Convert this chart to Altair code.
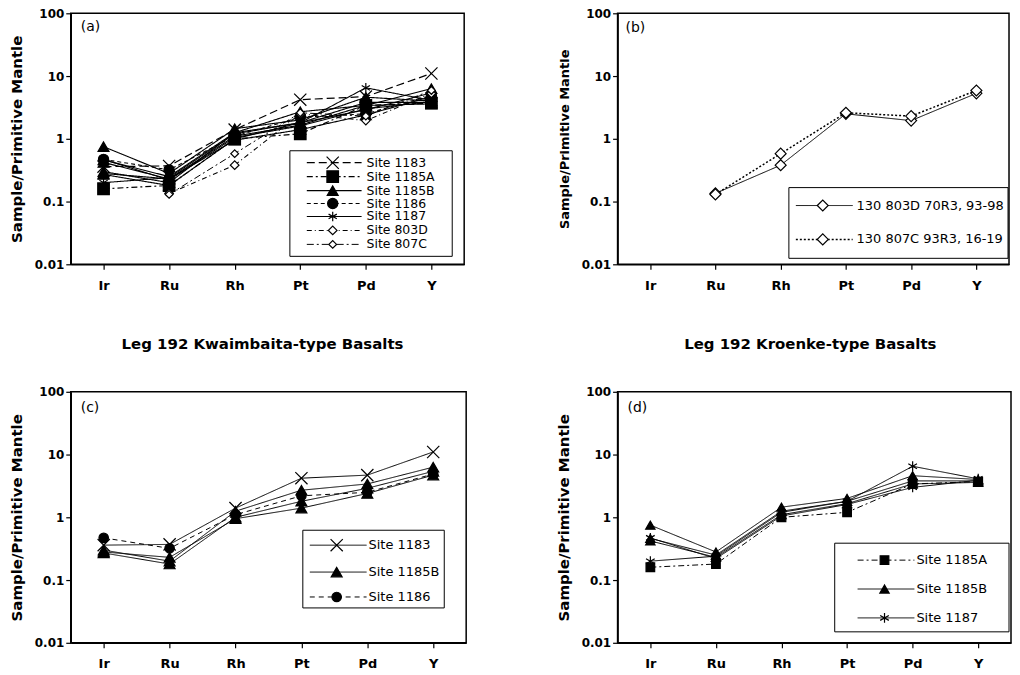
import altair as alt
import pandas as pd

ELEMENTS = ["Ir", "Ru", "Rh", "Pt", "Pd", "Y"]

# Leg 192 Kwaimbaita-type basalts (panel c)
K_1183 = [0.36, 0.37, 1.4, 4.2, 4.7, 11.0]
K_1185B_1 = [0.30, 0.20, 1.25, 2.7, 3.4, 6.3]
K_1185B_2 = [0.27, 0.18, 1.0, 1.8, 2.9, 5.4]
K_1185B_3 = [0.28, 0.23, 0.95, 1.4, 2.4, 4.7]
K_1186 = [0.47, 0.32, 1.1, 2.2, 2.5, 4.9]
# Leg 192 Kroenke-type basalts (panel d)
R_1185A = [0.16, 0.18, 1.0, 1.2, 3.4, 3.7]
R_1185B_1 = [0.75, 0.28, 1.45, 2.0, 4.6, 4.0]
R_1185B_2 = [0.46, 0.25, 1.25, 1.8, 3.8, 3.8]
R_1185B_3 = [0.42, 0.23, 1.1, 1.65, 3.4, 3.6]
R_1187_1 = [0.20, 0.24, 1.2, 1.8, 6.5, 4.1]
R_1187_2 = [0.47, 0.22, 1.05, 1.6, 3.0, 3.9]
# Leg 130 (panel b)
O_803D = [None, 0.135, 0.38, 2.5, 1.95, 5.3]
O_807C = [None, 0.13, 0.58, 2.6, 2.3, 5.9]

SAMPLES = [
    ("K1", "Site 1183", "K", K_1183),
    ("K2", "Site 1185B", "K", K_1185B_1),
    ("K3", "Site 1185B", "K", K_1185B_2),
    ("K4", "Site 1185B", "K", K_1185B_3),
    ("K5", "Site 1186", "K", K_1186),
    ("R1", "Site 1185A", "R", R_1185A),
    ("R2", "Site 1185B", "R", R_1185B_1),
    ("R3", "Site 1185B", "R", R_1185B_2),
    ("R4", "Site 1185B", "R", R_1185B_3),
    ("R5", "Site 1187", "R", R_1187_1),
    ("R6", "Site 1187", "R", R_1187_2),
    ("O1", "Site 803D", "O", O_803D),
    ("O2", "Site 807C", "O", O_807C),
]

rows = []
for sid, site, grp, vals in SAMPLES:
    for el, v in zip(ELEMENTS, vals):
        if v is not None:
            rows.append({"sample": sid, "site": site, "group": grp, "element": el, "value": v})
DF = pd.DataFrame(rows)

XPATH = "M-1,-1L1,1M-1,1L1,-1"
AST = "M0,-1L0,1M-0.87,-0.5L0.87,0.5M-0.87,0.5L0.87,-0.5"
SOLID = [1, 0]

# site: (dash, line width, shape, fill, size)
STY_A = {
    "Site 1183": ([8, 4], 1.2, XPATH, "black", 150),
    "Site 1185A": ([6, 3, 2, 3], 1.0, "square", "black", 60),
    "Site 1185B": (SOLID, 1.2, "triangle-up", "black", 90),
    "Site 1186": ([4, 3], 2.0, "circle", "black", 75),
    "Site 1187": (SOLID, 1.0, AST, "black", 140),
    "Site 803D": ([5, 3, 1, 3], 1.0, "diamond", "white", 90),
    "Site 807C": ([7, 3, 2, 3], 1.2, "diamond", "white", 120),
}
STY_B = {
    "Site 803D": (SOLID, 1.0, "diamond", "white", 120),
    "Site 807C": ([2, 2], 1.5, "diamond", "white", 120),
}
STY_C = {
    "Site 1183": (SOLID, 1.0, XPATH, "black", 150),
    "Site 1185B": (SOLID, 1.0, "triangle-up", "black", 90),
    "Site 1186": ([5, 4], 2.0, "circle", "black", 80),
}
STY_D = {
    "Site 1185A": ([6, 3, 2, 3], 1.0, "square", "black", 75),
    "Site 1185B": (SOLID, 1.0, "triangle-up", "black", 100),
    "Site 1187": (SOLID, 1.0, AST, "black", 150),
}
LABELS_B = {"Site 803D": "130 803D 70R3, 93-98", "Site 807C": "130 807C 93R3, 16-19"}

FONT = "DejaVu Sans"


def panel(df, sty, letter, box, rows_y, line_x, mark_x, text_x, width, height,
          ytitle_size, labels=None, title=None, title_dx=0, letter_xy=(10, 15), leg_font=13):
    order = list(sty.keys())
    sc_dash = alt.Scale(domain=order, range=[sty[s][0] for s in order])
    sc_w = alt.Scale(domain=order, range=[sty[s][1] for s in order])
    sc_shape = alt.Scale(domain=order, range=[sty[s][2] for s in order])
    sc_fill = alt.Scale(domain=order, range=[sty[s][3] for s in order])
    sc_size = alt.Scale(domain=order, range=[sty[s][4] for s in order])

    def dash():
        return alt.StrokeDash("site:N", scale=sc_dash, legend=None)

    def sw():
        return alt.StrokeWidth("site:N", scale=sc_w, legend=None)

    def shp():
        return alt.Shape("site:N", scale=sc_shape, legend=None)

    def fil():
        return alt.Fill("site:N", scale=sc_fill, legend=None)

    def siz():
        return alt.Size("site:N", scale=sc_size, legend=None)

    x = alt.X("element:N", sort=ELEMENTS,
              scale=alt.Scale(type="point", domain=ELEMENTS, padding=0.5),
              axis=alt.Axis(title=None, labelAngle=0, labelFontSize=13, labelPadding=10,
                            tickSize=5, labelFontWeight="bold"))
    y = alt.Y("value:Q",
              scale=alt.Scale(type="log", domain=[0.01, 100], nice=False),
              axis=alt.Axis(title="Sample/Primitive Mantle", values=[0.01, 0.1, 1, 10, 100],
                            format="~g", labelFontSize=12, labelPadding=2, tickSize=5,
                            titleFontSize=ytitle_size, titlePadding=10, labelFontWeight="bold"))
    base = alt.Chart(df)
    lines = base.mark_line(color="black").encode(x=x, y=y, detail="sample:N",
                                                 strokeDash=dash(), strokeWidth=sw())
    points = base.mark_point(filled=True, stroke="black", strokeWidth=1.2, opacity=1).encode(
        x=x, y=y, shape=shp(), fill=fil(), size=siz())

    layers = [lines, points]
    one = pd.DataFrame({"k": [0]})
    layers.append(alt.Chart(one).mark_rect(fill="white", stroke="black", strokeWidth=1).encode(
        x=alt.value(box[0]), x2=alt.value(box[1]), y=alt.value(box[2]), y2=alt.value(box[3])))
    for s, ry in zip(order, rows_y):
        lab = labels[s] if labels else s
        d1 = pd.DataFrame({"site": [s], "label": [lab]})
        c = alt.Chart(d1)
        layers.append(c.mark_rule(color="black").encode(
            x=alt.value(line_x[0]), x2=alt.value(line_x[1]), y=alt.value(ry),
            strokeDash=dash(), strokeWidth=sw()))
        layers.append(c.mark_point(filled=True, stroke="black", strokeWidth=1.2, opacity=1).encode(
            x=alt.value(mark_x), y=alt.value(ry), shape=shp(), fill=fil(), size=siz()))
        layers.append(c.mark_text(align="left", baseline="middle", fontSize=leg_font, font=FONT,
                                  color="black").encode(
            x=alt.value(text_x), y=alt.value(ry), text="label:N"))
    layers.append(alt.Chart(one).mark_text(text=letter, align="left", baseline="middle",
                                           fontSize=14, font=FONT, color="black").encode(
        x=alt.value(letter_xy[0]), y=alt.value(letter_xy[1])))
    props = dict(width=width, height=height)
    if title:
        props["title"] = alt.TitleParams(title, fontSize=15, fontWeight="bold", font=FONT,
                                         offset=34, frame="group", anchor="middle", dx=title_dx,
                                         color="black")
    return alt.layer(*layers).properties(**props)


A = panel(DF, STY_A, "(a)", (220, 383, 138, 244), [150, 164, 178, 191, 204, 218, 232],
          (237, 292), 263, 297, 395, 252, 15, letter_xy=(10, 14), leg_font=12.5)
B = panel(DF[DF.group == "O"], STY_B, "(b)", (172, 392, 175, 246), [193, 227],
          (179, 236), 206, 240, 393, 252, 13, labels=LABELS_B, letter_xy=(8, 15))
C = panel(DF[DF.group == "K"], STY_C, "(c)", (233, 375, 139, 217), [154, 181, 206],
          (240, 297), 267, 299, 397, 252, 15, title="Leg 192 Kwaimbaita-type Basalts",
          title_dx=-6, letter_xy=(10, 16))
D = panel(DF[DF.group == "R"], STY_D, "(d)", (218, 393, 152, 241), [169, 198, 227],
          (241, 298), 268, 300, 395, 252, 15, title="Leg 192 Kroenke-type Basalts",
          title_dx=-4, letter_xy=(10, 16))

RES = dict(shape="independent", strokeDash="independent", fill="independent",
           size="independent", strokeWidth="independent")
top = alt.hconcat(A, B, spacing=92).resolve_scale(**RES)
bottom = alt.hconcat(C, D, spacing=88).resolve_scale(**RES)
chart = alt.vconcat(top, bottom, spacing=43).resolve_scale(**RES).properties(
    padding={"top": -3, "left": 0, "right": 0, "bottom": 0}, background="white"
).configure_view(stroke="black", strokeWidth=1.5).configure_axis(
    domainColor="black", domainWidth=1.5, tickColor="black", tickWidth=1.2,
    labelColor="black", titleColor="black", labelFont=FONT, titleFont=FONT,
    titleFontWeight="bold", grid=False, labelFlush=False, labelOverlap=False
)

chart.save("out.html", embed_options={"renderer": "svg", "actions": False})
